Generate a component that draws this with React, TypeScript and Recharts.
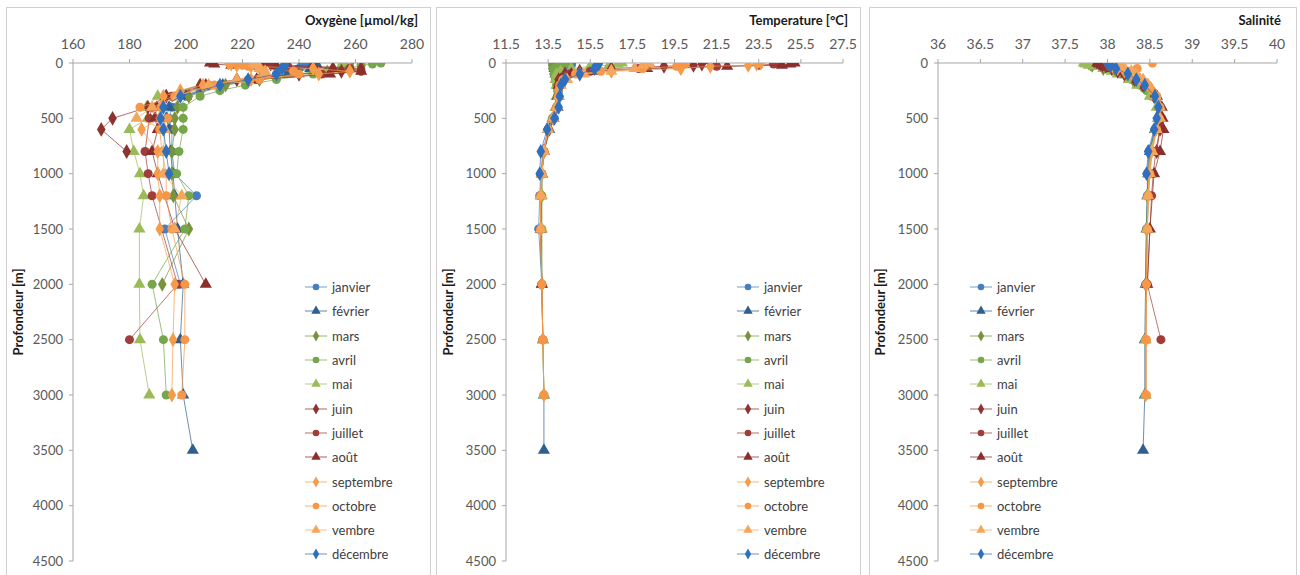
import React from 'react';
import { ScatterChart, Scatter, XAxis, YAxis, ZAxis, Symbols } from 'recharts';

const depths = [0, 10, 20, 30, 50, 75, 100, 150, 200, 250, 300, 400, 500, 600, 800, 1000, 1200, 1500, 2000, 2500, 3000, 3500];
const depthTicks = [0, 500, 1000, 1500, 2000, 2500, 3000, 3500, 4000, 4500];

const months = ['janvier', 'février', 'mars', 'avril', 'mai', 'juin', 'juillet', 'août', 'septembre', 'octobre', 'vembre', 'décembre'];
const monthColors = ['#4A7EBB', '#2F5F8E', '#77933C', '#76A64A', '#9BBB59', '#8E3330', '#A03C3A', '#8B2E2C', '#F59C4C', '#F79646', '#F5A65B', '#2E6FC0'];
const monthShapes = ['circle', 'triangle', 'diamond', 'circle', 'triangle', 'diamond', 'circle', 'triangle', 'diamond', 'circle', 'triangle', 'diamond'];

// Oxygène [µmol/kg] per month, one value per depth (null = no sample)
const oxyJanvier = [242, 242, 241, null, 240, 236, 232, 222, 212, 205, 200, 195, 194, 195, 195, 196, 203.7, 192.5, 198, null, null, null];
const oxyFevrier = [246, 246, null, 245, 244, null, 236, 225, 213, null, 200, 194, 193, 194, 194.5, 195.4, 196, 197, 199, 198, 199, 202.4];
const oxyMars = [258, 258, 257, null, 252, null, 240, 226, 214, null, 201, 197, 196, 196, 195, 195, 195.5, 201, 191.6, null, null, null];
const oxyAvril = [269, 266, 262, null, 258, 250, 245, 232, 221, 212, 205, 199, 199, 199, 197.5, 196.7, 201, 199.6, 188, 192, 193, null];
const oxyMai = [256, 256, 255, 257, 258, 250, 240, 222, 205, null, 190, 186, 186.5, 180, 181.5, 183.7, 185, 183.5, 183.5, 183.7, 187, null];
const oxyJuin = [228, 230, 236, 245, 262, 255, 240, 218, 205, null, 193, 186.5, 174, 170, 179, null, null, null, null, null, null, null];
const oxyJuillet = [220, 221, 224, 236, 258, 262, 248, 225, 208, null, 195, 188, 187, null, 185.5, 186.6, 188, null, 197, 180, null, null];
const oxyAout = [208.5, 210, 216, 232, 252, 262, 251, 225, 207, null, 193, 189.7, 189, 190, 188, 190, null, 196, 207, null, null, null];
const oxySeptembre = [215, 216, 218, 223, 245, 258, 247, 223, 206, 198, 192, 191, 190.7, 184.3, 190, 190, 190.7, 190.7, 196, 195.4, 195, null];
const oxyOctobre = [218, 219, 220, 222, 226, 238, 240, 226, 210, null, 196, 183.7, 193.5, 190.7, 191.5, 193, 193, 195, 199.6, 199.6, 198.5, null];
const oxyVembre = [224, 224, 225, null, 226, 228, 228, 218, 208, null, 197, 188, 182.5, 192.5, 192, 192, 198.5, 196, null, null, null, null];
const oxyDecembre = [235, 235, 235, null, 234, null, 232, 222, 212, null, 198, 192, 191, 192, 193, 194, null, null, null, null, null, null];

// Temperature [°C]
const tempJanvier = [14.6, 14.6, 14.6, null, 14.5, 14.4, 14.2, 14.1, 14.05, 14.0, 14.0, 13.95, 13.8, 13.5, 13.25, 13.15, 13.1, 13.05, 13.2, null, null, null];
const tempFevrier = [13.8, 13.8, null, 13.8, 13.8, null, 13.85, 13.9, 13.95, null, 14.0, 13.95, 13.75, 13.55, 13.3, 13.2, 13.15, 13.15, 13.2, 13.25, 13.3, 13.3];
const tempMars = [13.7, 13.7, 13.7, null, 13.7, null, 13.75, 13.85, 13.9, null, 13.95, 13.9, 13.75, 13.5, 13.3, 13.2, 13.2, 13.15, 13.2, null, null, null];
const tempAvril = [14.4, 14.2, 14.0, null, 13.8, 13.8, 13.8, 13.85, 13.9, 13.95, 13.95, 13.9, 13.7, 13.5, 13.3, 13.2, 13.2, 13.2, 13.2, 13.25, 13.3, null];
const tempMai = [17.0, 16.8, 16.4, 15.5, 14.6, 14.1, 13.9, 13.85, 13.9, null, 13.9, 13.85, 13.7, 13.5, 13.3, 13.2, 13.2, 13.2, 13.2, 13.25, 13.3, null];
const tempJuin = [21.2, 20.8, 20.4, 19.0, 16.5, 15.0, 14.3, 14.0, 13.95, null, 13.95, 13.9, 13.75, 13.55, 13.3, null, null, null, null, null, null, null];
const tempJuillet = [24.4, 24.2, 23.5, 21.5, 17.8, 15.5, 14.5, 14.1, 14.0, null, 13.95, 13.9, 13.75, null, 13.3, 13.2, 13.15, null, 13.2, 13.25, null, null];
const tempAout = [25.2, 25.0, 24.6, 22.0, 18.2, 15.8, 14.6, 14.1, 14.0, null, 13.95, 13.9, 13.75, 13.5, 13.3, 13.2, null, 13.15, 13.2, null, null, null];
const tempSeptembre = [23.6, 23.4, 23.0, 21.2, 19.8, 16.5, 15.0, 14.3, 14.05, 14.0, 13.95, 13.9, 13.75, 13.5, 13.3, 13.2, 13.15, 13.15, 13.2, 13.25, 13.3, null];
const tempOctobre = [20.0, 20.0, 19.7, 19.6, 18.0, 16.0, 14.8, 14.2, 14.05, null, 14.0, 13.9, 13.75, 13.5, 13.3, 13.2, 13.15, 13.15, 13.2, 13.25, 13.3, null];
const tempVembre = [18.3, 18.2, 18.0, null, 17.6, 16.5, 15.2, 14.4, 14.1, null, 14.0, 13.9, 13.75, 13.5, 13.3, 13.2, 13.15, 13.15, null, null, null, null];
const tempDecembre = [15.9, 15.9, 15.8, null, 15.7, null, 15.0, 14.3, 14.1, null, 14.05, 14.0, 13.8, 13.45, 13.15, 13.1, null, null, null, null, null, null];

// Salinité
const salJanvier = [38.02, 38.03, 38.04, null, 38.1, 38.18, 38.26, 38.36, 38.45, 38.52, 38.58, 38.62, 38.6, 38.56, 38.49, 38.47, 38.47, 38.46, 38.45, null, null, null];
const salFevrier = [38.05, 38.05, null, 38.07, 38.12, null, 38.28, 38.38, 38.46, null, 38.58, 38.62, 38.6, 38.56, 38.5, 38.48, 38.47, 38.46, 38.45, 38.44, 38.44, 38.42];
const salMars = [37.78, 37.8, 37.82, null, 37.95, null, 38.2, 38.3, 38.4, null, 38.55, 38.6, 38.6, 38.57, 38.5, 38.48, 38.47, 38.46, 38.45, null, null, null];
const salAvril = [37.82, 37.83, 37.85, null, 37.98, 38.08, 38.15, 38.28, 38.38, 38.46, 38.52, 38.6, 38.61, 38.58, 38.52, 38.5, 38.48, 38.47, 38.46, 38.45, 38.45, null];
const salMai = [37.72, 37.74, 37.78, 37.85, 37.95, 38.05, 38.12, 38.25, 38.35, null, 38.5, 38.58, 38.6, 38.57, 38.52, 38.49, 38.48, 38.47, 38.46, 38.45, 38.45, null];
const salJuin = [37.9, 37.92, 37.94, 37.98, 38.05, 38.12, 38.2, 38.32, 38.42, null, 38.55, 38.62, 38.64, 38.62, 38.58, null, null, null, null, null, null, null];
const salJuillet = [37.92, 37.93, 37.95, 37.98, 38.06, 38.14, 38.22, 38.34, 38.44, null, 38.56, 38.63, 38.64, null, 38.57, 38.54, 38.52, null, 38.47, 38.63, null, null];
const salAout = [37.88, 37.9, 37.93, 37.97, 38.05, 38.15, 38.22, 38.35, 38.45, null, 38.58, 38.64, 38.65, 38.66, 38.62, 38.55, null, 38.5, 38.47, null, null, null];
const salSeptembre = [38.0, 38.02, 38.04, 38.06, 38.12, 38.2, 38.28, 38.38, 38.47, 38.53, 38.57, 38.6, 38.6, 38.57, 38.52, 38.49, 38.48, 38.47, 38.46, 38.45, 38.45, null];
const salOctobre = [38.53, 38.15, 38.1, 38.12, 38.35, 38.25, 38.3, 38.4, 38.48, null, 38.58, 38.62, 38.61, 38.58, 38.52, 38.5, 38.48, 38.47, 38.46, 38.46, 38.46, null];
const salVembre = [38.15, 38.16, 38.17, null, 38.2, 38.28, 38.33, 38.42, 38.48, null, 38.57, 38.62, 38.62, 38.58, 38.53, 38.5, 38.48, 38.47, null, null, null, null];
const salDecembre = [38.0, 38.02, 38.04, null, 38.1, null, 38.24, 38.34, 38.44, null, 38.56, 38.6, 38.58, 38.55, 38.48, 38.46, null, null, null, null, null, null];

const oxyTicks = [160, 180, 200, 220, 240, 260, 280];
const tempTicks = [11.5, 13.5, 15.5, 17.5, 19.5, 21.5, 23.5, 25.5, 27.5];
const salTicks = [36, 36.5, 37, 37.5, 38, 38.5, 39, 39.5, 40];

const oxySeries = [oxyJanvier, oxyFevrier, oxyMars, oxyAvril, oxyMai, oxyJuin, oxyJuillet, oxyAout, oxySeptembre, oxyOctobre, oxyVembre, oxyDecembre];
const tempSeries = [tempJanvier, tempFevrier, tempMars, tempAvril, tempMai, tempJuin, tempJuillet, tempAout, tempSeptembre, tempOctobre, tempVembre, tempDecembre];
const salSeries = [salJanvier, salFevrier, salMars, salAvril, salMai, salJuin, salJuillet, salAout, salSeptembre, salOctobre, salVembre, salDecembre];

const FONT = 'Lato, "Open Sans", sans-serif';
const TICK_COLOR = '#595959';
const AXIS_COLOR = '#A6A6A6';

type PanelCfg = {
  title: string;
  ticks: number[];
  series: (number | null)[][];
  boxLeft: number;
  boxWidth: number;
  plotLeft: number;
  plotRight: number;
  titleRight: number;
  labelX: number;
  legendLeft: number;
};

const panels: PanelCfg[] = [
  { title: 'Oxygène [µmol/kg]', ticks: oxyTicks, series: oxySeries, boxLeft: 6, boxWidth: 425, plotLeft: 73, plotRight: 412, titleRight: 418, labelX: 18, legendLeft: 304 },
  { title: 'Temperature [°C]', ticks: tempTicks, series: tempSeries, boxLeft: 436, boxWidth: 425, plotLeft: 506, plotRight: 843, titleRight: 848, labelX: 448, legendLeft: 736 },
  { title: 'Salinité', ticks: salTicks, series: salSeries, boxLeft: 869, boxWidth: 428, plotLeft: 938, plotRight: 1277, titleRight: 1281, labelX: 880, legendLeft: 969 },
];

const BOX_TOP = 7;
const CHART_H = 566;
const PLOT_TOP = 63;
const PLOT_BOTTOM = 561;
const X_AXIS_H = 30;
const Y_AXIS_W = 50;
const LEGEND_TOP = 275;

function toPoints(values: (number | null)[]) {
  const pts: { x: number; d: number }[] = [];
  values.forEach((v, i) => {
    if (v !== null && v !== undefined) pts.push({ x: v, d: depths[i] });
  });
  return pts;
}

function LegendBox({ left }: { left: number }) {
  return (
    <div style={{ position: 'absolute', left, top: LEGEND_TOP, fontFamily: FONT, fontSize: 13, color: '#404040' }}>
      {months.map((m, i) => (
        <div key={m} style={{ display: 'flex', alignItems: 'center', height: 24.3 }}>
          <svg width={26} height={14} style={{ display: 'block' }}>
            <line x1={1} y1={7} x2={23} y2={7} stroke={monthColors[i]} strokeWidth={1} strokeOpacity={0.75} />
            <Symbols cx={12} cy={7} type={monthShapes[i] as any} size={monthShapes[i] === 'triangle' ? 38 : 34} fill={monthColors[i]} />
          </svg>
          <span style={{ marginLeft: 2, lineHeight: '14px' }}>{m}</span>
        </div>
      ))}
    </div>
  );
}

function Panel({ cfg }: { cfg: PanelCfg }) {
  const chartW = cfg.boxWidth - 2;
  const originX = cfg.boxLeft + 1;
  const originY = BOX_TOP + 1;
  const marginLeft = cfg.plotLeft - originX - Y_AXIS_W;
  const marginRight = originX + chartW - cfg.plotRight;
  const marginTop = PLOT_TOP - originY - X_AXIS_H;
  const marginBottom = CHART_H - (PLOT_BOTTOM - originY);
  const lo = cfg.ticks[0];
  const hi = cfg.ticks[cfg.ticks.length - 1];
  return (
    <>
      <div
        style={{
          position: 'absolute',
          left: cfg.boxLeft,
          top: BOX_TOP,
          width: cfg.boxWidth - 2,
          height: 575 - BOX_TOP,
          border: '1px solid #D0D0D0',
          background: '#FFFFFF',
        }}
      >
        <ScatterChart
          width={chartW}
          height={CHART_H}
          margin={{ top: marginTop, right: marginRight, bottom: marginBottom, left: marginLeft }}
          style={{ fontFamily: FONT }}
        >
          <XAxis
            type="number"
            dataKey="x"
            orientation="top"
            domain={[lo, hi]}
            ticks={cfg.ticks}
            interval={0}
            allowDataOverflow
            height={X_AXIS_H}
            stroke={AXIS_COLOR}
            tickSize={4}
            tickMargin={10}
            tick={{ fill: TICK_COLOR, fontSize: 14, fontFamily: FONT }}
          />
          <YAxis
            type="number"
            dataKey="d"
            domain={[0, 4500]}
            ticks={depthTicks}
            interval={0}
            reversed
            allowDataOverflow
            width={Y_AXIS_W}
            stroke={AXIS_COLOR}
            tickSize={4}
            tickMargin={6}
            tick={{ fill: TICK_COLOR, fontSize: 13, fontFamily: FONT }}
          />
          <ZAxis type="number" range={[68, 68]} />
          {cfg.series.map((vals, i) => (
            <Scatter
              key={months[i]}
              name={months[i]}
              data={toPoints(vals)}
              fill={monthColors[i]}
              shape={monthShapes[i] as any}
              line={{ stroke: monthColors[i], strokeWidth: 1, strokeOpacity: 0.7 }}
              lineType="joint"
              isAnimationActive={false}
            />
          ))}
        </ScatterChart>
      </div>
      <LegendBox left={cfg.legendLeft} />
      <div
        style={{
          position: 'absolute',
          right: 1300 - cfg.titleRight,
          top: 11,
          fontFamily: FONT,
          fontWeight: 700,
          fontSize: 13,
          color: '#1A1A1A',
          whiteSpace: 'nowrap',
          lineHeight: '18px',
        }}
      >
        {cfg.title}
      </div>
      <div
        style={{
          position: 'absolute',
          left: cfg.labelX,
          top: 312,
          transform: 'translate(-50%, -50%) rotate(-90deg)',
          fontFamily: FONT,
          fontWeight: 700,
          fontSize: 13,
          color: '#1A1A1A',
          whiteSpace: 'nowrap',
        }}
      >
        Profondeur [m]
      </div>
    </>
  );
}

export default function App() {
  return (
    <div style={{ position: 'absolute', left: 0, top: 0, width: 1300, height: 575, background: '#FFFFFF', overflow: 'hidden' }}>
      {panels.map((p) => (
        <Panel key={p.title} cfg={p} />
      ))}
    </div>
  );
}
